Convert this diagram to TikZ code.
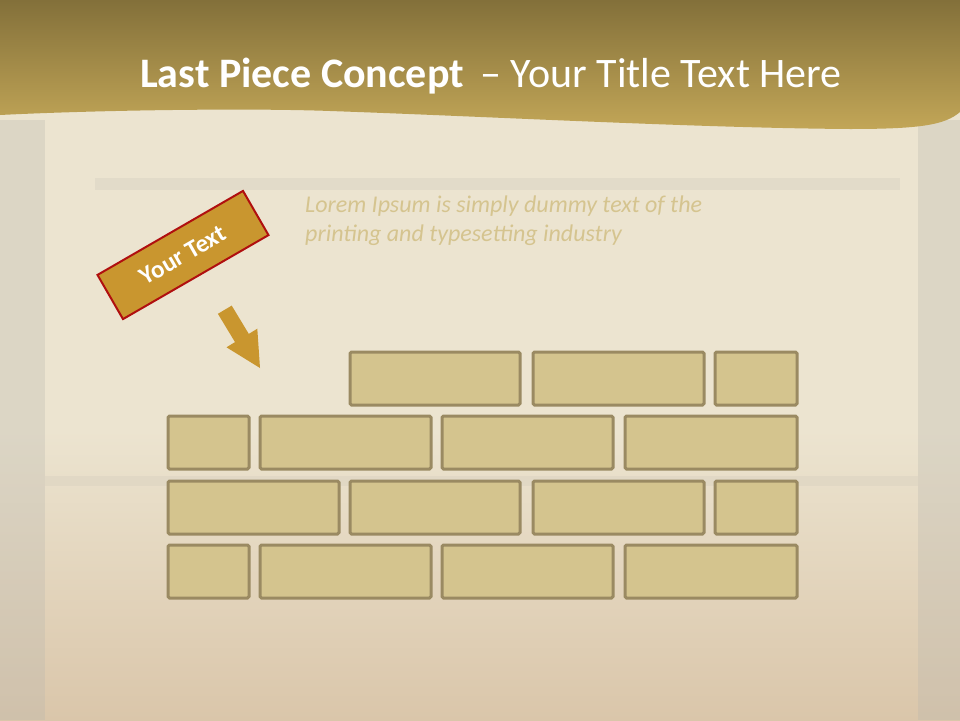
\documentclass[tikz,border=0pt]{standalone}
\usepackage{fontspec}
\setmainfont{Carlito}
\definecolor{parch}{HTML}{ECE4D0}
\definecolor{parchlow}{HTML}{DAC6AA}
\definecolor{bannertop}{HTML}{83703A}
\definecolor{bannerbot}{HTML}{C2A657}
\definecolor{brickfill}{HTML}{D4C48E}
\definecolor{brickline}{HTML}{9A8A62}
\definecolor{tagfill}{HTML}{C9962F}
\definecolor{tagline}{HTML}{B00F0F}
\definecolor{loremcol}{HTML}{D5C48F}
\definecolor{edgegray}{HTML}{B8B6AE}
\tikzset{
  brick/.style={draw=brickline, fill=brickfill, line width=3pt, rounded corners=1.5pt},
  tagbox/.style={draw=tagline, fill=tagfill, line width=2pt, minimum width=168pt, minimum height=51pt, rotate=30, inner sep=0pt,
     text=white, font=\fontsize{25}{28}\selectfont\bfseries},
}
\begin{document}
\begin{tikzpicture}[x=1pt,y=-1pt]
\useasboundingbox (0,0) rectangle (960,720);
% background
\fill[parch] (0,0) rectangle (960,430);
\shade[top color=parch, bottom color=parchlow] (0,430) rectangle (960,720);
% side strips and faint bands
\fill[edgegray, opacity=0.30] (0,120) rectangle (45,720);
\fill[edgegray, opacity=0.30] (918,120) rectangle (960,720);
\fill[edgegray, opacity=0.18] (95,178) rectangle (900,190);
\fill[edgegray, opacity=0.15] (45,476) rectangle (918,486);
% title banner
\shade[top color=bannertop, bottom color=bannerbot]
  (0,0) -- (960,0) -- (960,112)
  .. controls (945,125) and (920,129) .. (850,129)
  .. controls (700,128) and (500,117) .. (330,111)
  .. controls (250,108) and (100,110) .. (0,115) -- cycle;
\node[text=white, font=\fontsize{42}{46}\selectfont, anchor=center] (title) at (491,76)
  {\textbf{Last Piece Concept}\, – Your Title Text Here};
% lorem text
\node[text=loremcol, font=\fontsize{24}{29}\selectfont\itshape, anchor=north west, align=left, inner sep=0pt] (lorem) at (305,196)
  {Lorem Ipsum is simply dummy text of the\\printing and typesetting industry};
% tag
\node[tagbox] (tag) at (183,255) {Your Text};
% arrow
\fill[tagfill] (217.9,313.8) -- (231.7,305.6) -- (248.8,333.9) -- (257.3,328.7) -- (260,368) -- (226.5,347.3) -- (235.0,342.1) -- cycle;
% bricks
\draw[brick] (350,352) rectangle (520,405);
\draw[brick] (533,352) rectangle (704,405);
\draw[brick] (715,352) rectangle (797,405);
\draw[brick] (168,416) rectangle (249,469);
\draw[brick] (260,416) rectangle (431,469);
\draw[brick] (442,416) rectangle (613,469);
\draw[brick] (625,416) rectangle (797,469);
\draw[brick] (168,481) rectangle (339,534);
\draw[brick] (350,481) rectangle (520,534);
\draw[brick] (533,481) rectangle (704,534);
\draw[brick] (715,481) rectangle (797,534);
\draw[brick] (168,545) rectangle (249,598);
\draw[brick] (260,545) rectangle (431,598);
\draw[brick] (442,545) rectangle (613,598);
\draw[brick] (625,545) rectangle (797,598);
\end{tikzpicture}
\end{document}
